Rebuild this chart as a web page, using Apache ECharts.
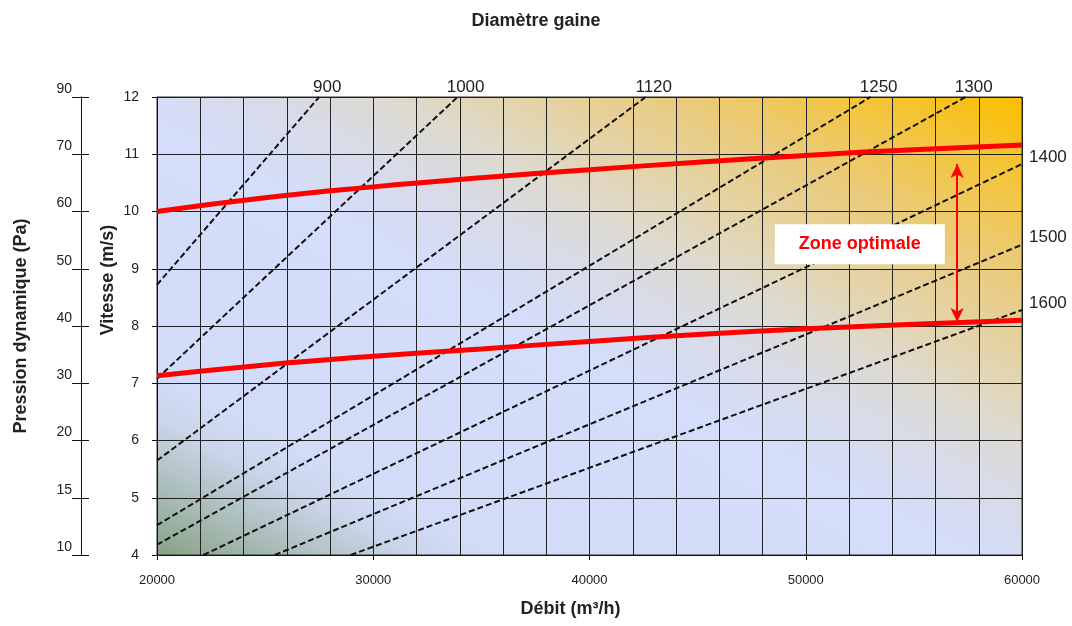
<!DOCTYPE html>
<html>
<head>
<meta charset="utf-8">
<script src="https://cdn.jsdelivr.net/npm/echarts@6/dist/echarts.min.js"></script>
<style>
html,body{margin:0;padding:0;background:#fff;}
#chart{width:1072px;height:626px;}
</style>
</head>
<body>
<div id="chart"></div>
<script>
// ---- data ----
const diameters = ['900', '1000', '1120', '1250', '1300', '1400', '1500', '1600'];
const diameterStart = [[20000, 8.72], [20000, 7.08], [20000, 5.65], [20000, 4.52], [20000, 4.18], [22150, 4], [25450, 4], [28950, 4]];
const diameterEnd = [[27500, 12], [33900, 12], [42600, 12], [53000, 12], [57400, 12], [60000, 10.83], [60000, 9.42], [60000, 8.28]];
const flowPoints = [20000, 25000, 30000, 35000, 40000, 45000, 50000, 55000, 60000];
const upperVelocity = [10.0, 10.24, 10.43, 10.59, 10.73, 10.86, 10.98, 11.08, 11.16];
const lowerVelocity = [7.13, 7.32, 7.47, 7.60, 7.73, 7.85, 7.95, 8.03, 8.10];
const flowLabels = [20000, 30000, 40000, 50000, 60000];
const velocityTicks = [4, 5, 6, 7, 8, 9, 10, 11, 12];
const pressureLabels = ['10', '15', '20', '30', '40', '50', '60', '70', '90'];
const zoneLabel = 'Zone optimale';
const zonePoint = [52500, 9.43];
const arrowFlow = 57000;
const arrowVelocity = [8.07, 10.83];

const FONT = '"Liberation Sans", Arial, sans-serif';
const chart = echarts.init(document.getElementById('chart'), null, {renderer: 'canvas'});

const bg = new echarts.graphic.LinearGradient(157, 555, 536, -159, [
  {offset: 0, color: '#87a283'},
  {offset: 0.1, color: '#b4c4c8'},
  {offset: 0.15, color: '#cad5ea'},
  {offset: 0.2, color: '#d2dcf8'},
  {offset: 0.47, color: '#d4ddfa'},
  {offset: 0.56, color: '#d8dbe8'},
  {offset: 0.63, color: '#dddad0'},
  {offset: 0.7, color: '#e3d4ac'},
  {offset: 0.8, color: '#eacb7c'},
  {offset: 0.9, color: '#f3c540'},
  {offset: 1, color: '#fbbf00'}
], true);

const diameterSeries = diameters.map((d, i) => {
  const end = diameterEnd[i];
  const atTop = end[1] >= 12;
  return {
    type: 'line',
    name: d,
    data: [
      diameterStart[i],
      {
        value: end,
        label: atTop
          ? {show: true, formatter: d, position: 'top', distance: 1, offset: [8, 0]}
          : {show: true, formatter: d, position: 'right', distance: 7, offset: [0, -7]}
      }
    ],
    symbol: 'circle',
    symbolSize: 0,
    showSymbol: true,
    lineStyle: {color: '#111', width: 2, type: [6, 3]},
    itemStyle: {color: '#111'},
    label: {color: '#222', fontSize: 17, fontFamily: FONT},
    silent: true,
    z: 3
  };
});

const redSeries = [upperVelocity, lowerVelocity].map((vals, k) => ({
  type: 'line',
  name: k === 0 ? 'max' : 'min',
  data: flowPoints.map((q, i) => [q, vals[i]]),
  smooth: true,
  showSymbol: false,
  lineStyle: {color: '#ff0000', width: 5},
  silent: true,
  z: 4
}));

const annotation = {
  type: 'scatter',
  data: [zonePoint],
  symbolSize: 0,
  silent: true,
  z: 6,
  itemStyle: {opacity: 1},
  label: {
    show: true,
    position: 'inside',
    formatter: zoneLabel,
    color: '#ff0000',
    fontWeight: 'bold',
    fontSize: 18,
    fontFamily: FONT,
    backgroundColor: '#ffffff',
    padding: [11, 24, 11, 24]
  },
  markLine: {
    silent: true,
    symbol: ['arrow', 'arrow'],
    symbolSize: [10, 14],
    label: {show: false},
    lineStyle: {color: '#ff0000', width: 2, type: 'solid', opacity: 1},
    data: [[{coord: [arrowFlow, arrowVelocity[0]]}, {coord: [arrowFlow, arrowVelocity[1]]}]]
  }
};

chart.setOption({
  animation: false,
  backgroundColor: '#ffffff',
  title: {
    text: 'Diamètre gaine',
    left: 'center',
    top: 7,
    textStyle: {fontSize: 18, fontWeight: 'bold', color: '#222', fontFamily: FONT}
  },
  grid: {
    left: 157, right: 50, top: 97, bottom: 71,
    show: true,
    backgroundColor: bg,
    borderColor: '#333',
    borderWidth: 1
  },
  xAxis: [
    {
      type: 'value',
      position: 'bottom',
      min: 20000, max: 60000, interval: 2000,
      axisLine: {show: false},
      axisTick: {show: false},
      axisLabel: {show: false},
      splitLine: {show: true, lineStyle: {color: '#222', width: 1}}
    },
    {
      type: 'value',
      position: 'bottom',
      min: 20000, max: 60000, interval: 10000,
      name: 'Débit (m³/h)',
      nameLocation: 'middle',
      nameGap: 45,
      nameMoveOverlap: false,
      nameTextStyle: {fontSize: 18, fontWeight: 'bold', color: '#222', fontFamily: FONT, padding: [0, 38, 0, 0]},
      axisLine: {show: true, onZero: false, lineStyle: {color: '#111', width: 1}},
      axisTick: {show: true, length: 5, lineStyle: {color: '#111'}},
      axisLabel: {margin: 19, fontSize: 13, color: '#222', fontFamily: FONT,
        formatter: v => String(flowLabels[Math.round((v - 20000) / 10000)])},
      splitLine: {show: false}
    }
  ],
  yAxis: [
    {
      type: 'value',
      position: 'left',
      min: 4, max: 12, interval: 1,
      name: 'Vitesse (m/s)',
      nameLocation: 'middle',
      nameGap: 40,
      nameMoveOverlap: false,
      nameTextStyle: {fontSize: 18, fontWeight: 'bold', color: '#222', fontFamily: FONT, padding: [0, 0, 0, 92]},
      axisLine: {show: true, onZero: false, lineStyle: {color: '#111'}},
      axisTick: {show: true, length: 5, lineStyle: {color: '#111'}},
      axisLabel: {margin: 18, fontSize: 14, color: '#222', fontFamily: FONT,
        formatter: v => String(velocityTicks[Math.round(v) - 4])},
      splitLine: {show: true, lineStyle: {color: '#222', width: 1}}
    },
    {
      type: 'value',
      position: 'left',
      offset: 76,
      min: 4, max: 12, interval: 1,
      name: 'Pression dynamique (Pa)',
      nameLocation: 'middle',
      nameGap: 51,
      nameMoveOverlap: false,
      nameTextStyle: {fontSize: 18, fontWeight: 'bold', color: '#222', fontFamily: FONT},
      axisLine: {show: true, onZero: false, lineStyle: {color: '#111'}},
      axisTick: {show: true, length: 9, lineStyle: {color: '#111'}},
      axisLabel: {margin: 9, fontSize: 14, color: '#222', fontFamily: FONT, verticalAlign: 'bottom', padding: [0, 0, 1, 0],
        formatter: v => pressureLabels[Math.round(v) - 4]},
      splitLine: {show: false}
    },
    {
      type: 'value',
      position: 'left',
      offset: 76,
      min: 4, max: 12, interval: 1,
      axisLine: {show: true, onZero: false, lineStyle: {color: '#111'}},
      axisTick: {show: true, inside: true, length: 8, lineStyle: {color: '#111'}},
      axisLabel: {show: false},
      splitLine: {show: false}
    }
  ],
  series: [...diameterSeries, ...redSeries, annotation]
});
</script>
</body>
</html>
